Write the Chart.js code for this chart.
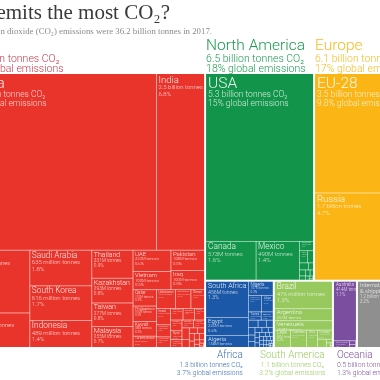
<!DOCTYPE html>
<html><head><meta charset="utf-8">
<script src="https://cdn.jsdelivr.net/npm/chart.js@4/dist/chart.umd.min.js"></script>
<style>html,body{margin:0;padding:0;background:#fff;overflow:hidden}canvas{display:block}</style>
</head><body><canvas id="c" width="380" height="380"></canvas>
<script>
// ---------------- DATA (million tonnes CO2, 2017) ----------------
const titleText = 'Who emits the most CO₂?';
const subtitleText = 'Global carbon dioxide (CO₂) emissions were 36.2 billion tonnes in 2017.';
const globalTotal = 36200;

const regionNames = ['Asia','North America','Europe','Africa','South America','Oceania','International'];

const asiaCountries = ['China','India','Japan','Iran','Saudi Arabia','South Korea','Indonesia','Thailand','Kazakhstan','Taiwan','Malaysia','UAE','Vietnam','Pakistan','Iraq','Qatar','Philippines','Kuwait','Turkmenistan','Uzbekistan','Bangladesh','Oman','Israel','Singapore','Hong Kong','North Korea','Mongolia','Azerbaijan','Bahrain','Syria','Lebanon','Myanmar','Jordan','Sri Lanka','Laos','Nepal','Yemen','Afghanistan','Cambodia','Georgia','Kyrgyzstan','Brunei','Tajikistan','Armenia','Palestine','Macao','Maldives','Bhutan'];
const asiaEmissions = [9839,2467,1205,672,635,616,489,331,293,277,255,232,199,198,190,110,105,98,80,102,83,76,66,49,45,41,38,35,35,29,27,26,26,24,18,13,12,11,10,10,10,7,6,5,3,2,1.5,1];

const northAmericaCountries = ['USA','Canada','Mexico','Trinidad and Tobago','Cuba','Dominican Republic','Guatemala','Panama','Honduras','Jamaica','Costa Rica','El Salvador','Nicaragua','Haiti','Bahamas','Barbados'];
const northAmericaEmissions = [5270,573,490,38,28,22,18,11,10,8,8,7,5,3,2,1.5];

const europeCountries = ['EU-28','Russia','Turkey','Ukraine','Belarus','Serbia','Norway','Switzerland','Bosnia and Herzegovina','Kosovo','Macedonia','Moldova','Albania','Montenegro','Iceland'];
const europeEmissions = [3545,1693,448,210,60,46,44,38,22,9,8,5,5,2,2];

const africaCountries = ['South Africa','Egypt','Algeria','Nigeria','Morocco','Libya','Tunisia','Angola','Sudan','Kenya','Ghana','Ethiopia',"Côte d'Ivoire",'Tanzania','Zimbabwe','Senegal','Mozambique','Cameroon','Botswana','Benin','Equatorial Guinea','Zambia','Uganda','Gabon','Mauritius','Madagascar','Namibia','Burkina Faso','Mauritania','DR Congo','Congo','Guinea','Togo','Mali','Niger','Malawi','Rwanda','Chad','Sierra Leone','Liberia','Eswatini'];
const africaEmissions = [456,225,158,107,62,57,30,30,20,18,15,14,12,12,10,9,8,7,7,7,7,5,5,4,4,4,4,4,4,3,3,3,3,2,2,1,1,1,1,1,1];

const southAmericaCountries = ['Brazil','Argentina','Venezuela','Chile','Colombia','Peru','Ecuador','Bolivia','Paraguay','Uruguay','Guyana','Suriname'];
const southAmericaEmissions = [476,204,158,85,84,56,40,22,7,6,2,2];

const oceaniaCountries = ['Australia','New Zealand','Papua New Guinea','New Caledonia','Fiji','Solomon Islands'];
const oceaniaEmissions = [414,34,7,6,2,0.5];

const internationalCountries = ['International aviation & shipping'];
const internationalEmissions = [1160];

// ---------------- STYLE / LAYOUT ----------------
const regionData = {
  'Asia': [asiaCountries, asiaEmissions],
  'North America': [northAmericaCountries, northAmericaEmissions],
  'Europe': [europeCountries, europeEmissions],
  'Africa': [africaCountries, africaEmissions],
  'South America': [southAmericaCountries, southAmericaEmissions],
  'Oceania': [oceaniaCountries, oceaniaEmissions],
  'International': [internationalCountries, internationalEmissions]
};
const regionFill = {'Asia':'#e8342a','North America':'#12954a','Europe':'#fbb616','Africa':'#1b58a7','South America':'#97c95e','Oceania':'#7b4e9f','International':'#8f8f8f'};
const regionText = {'Asia':'#c9394a','North America':'#1c9a4f','Europe':'#fbba22','Africa':'#3b6db5','South America':'#9ccb64','Oceania':'#7b4e9f','International':'#8f8f8f'};

const V = (...c) => ({dir:'v', c});
const H = (...c) => ({dir:'h', c});
const REST = {rest:true};
const topLayout = H('Asia', V(H('North America','Europe'), H('Africa','South America','Oceania','International')));
const regionLayout = {
  'Asia': V(H('China','India'), H(V('Japan','Iran'), V('Saudi Arabia','South Korea','Indonesia'), V('Thailand','Kazakhstan','Taiwan','Malaysia'),
            V(H(V('UAE','Vietnam'), V('Pakistan','Iraq')), H(V('Qatar','Philippines','Kuwait','Turkmenistan'), REST)))),
  'North America': V('USA', H('Canada','Mexico', REST)),
  'Europe': V('EU-28', H('Russia', V('Turkey','Ukraine', REST))),
  'Africa': H(V('South Africa','Egypt','Algeria'), REST),
  'South America': V('Brazil','Argentina','Venezuela', REST),
  'Oceania': V('Australia', REST),
  'International': V('International aviation & shipping')
};
// treemap frame in scale units; scales crop a 380x380 window of it
const FRAME = {x:0, y:0, w:454, h:275};
const FONT = 'Roboto, "Liberation Sans", sans-serif';

// ---------------- LAYOUT ENGINE ----------------
function listed(node, acc){ if (typeof node==='string') acc.add(node); else if (node.c) node.c.forEach(n=>listed(n,acc)); return acc; }
function nodeVal(node, valOf, rest){ if (typeof node==='string') return valOf[node]; if (node.rest) return rest.reduce((a,b)=>a+b.v,0); return node.c.reduce((s,n)=>s+nodeVal(n,valOf,rest),0); }
function worst(row, side, scale){
  const s=row.reduce((a,b)=>a+b.v,0)*scale; let mx=-Infinity,mn=Infinity;
  row.forEach(r=>{const a=r.v*scale; mx=Math.max(mx,a); mn=Math.min(mn,a);});
  return Math.max(side*side*mx/(s*s),(s*s)/(side*side*mn));
}
function squarify(items, rect, out){
  items=items.slice().sort((a,b)=>b.v-a.v);
  let {x,y,w,h}=rect; const total=items.reduce((a,b)=>a+b.v,0); const scale=w*h/total;
  let row=[],i=0;
  const flush=()=>{
    const s=row.reduce((a,b)=>a+b.v,0)*scale;
    if(w>=h){const cw=s/h; let yy=y; row.forEach(r=>{const ch=r.v*scale/cw; out.push({name:r.name,v:r.v,x,y:yy,w:cw,h:ch}); yy+=ch;}); x+=cw; w-=cw;}
    else {const rh=s/w; let xx=x; row.forEach(r=>{const cw=r.v*scale/rh; out.push({name:r.name,v:r.v,x:xx,y,w:cw,h:rh}); xx+=cw;}); y+=rh; h-=rh;}
    row=[];
  };
  while(i<items.length){const side=Math.min(w,h); const nr=row.concat([items[i]]);
    if(row.length===0||worst(nr,side,scale)<=worst(row,side,scale)){row=nr;i++;} else flush();}
  if(row.length) flush();
}
function layoutNode(node, rect, valOf, rest, out){
  if (typeof node==='string'){ out.push({name:node, v:valOf[node], x:rect.x, y:rect.y, w:rect.w, h:rect.h}); return; }
  if (node.rest){ squarify(rest, rect, out); return; }
  const vals=node.c.map(n=>nodeVal(n,valOf,rest)); const tot=vals.reduce((a,b)=>a+b,0); let off=0;
  node.c.forEach((n,k)=>{ const f=vals[k]/tot;
    const r = node.dir==='h' ? {x:rect.x+off*rect.w, y:rect.y, w:rect.w*f, h:rect.h} : {x:rect.x, y:rect.y+off*rect.h, w:rect.w, h:rect.h*f};
    off+=f; layoutNode(n,r,valOf,rest,out); });
}
const regionTotals = {};
regionNames.forEach(r=>{ regionTotals[r]=regionData[r][1].reduce((a,b)=>a+b,0); });
const regionRects=[]; layoutNode(topLayout, FRAME, regionTotals, [], regionRects);
const cells=[];
regionRects.forEach(R=>{
  const [names, vals]=regionData[R.name]; const valOf={}; names.forEach((n,i)=>valOf[n]=vals[i]);
  const used=listed(regionLayout[R.name], new Set());
  const rest=names.filter(n=>!used.has(n)).map(n=>({name:n, v:valOf[n]}));
  const out=[]; layoutNode(regionLayout[R.name], R, valOf, rest, out);
  out.forEach(c=>{ c.region=R.name; cells.push(c); });
});

// ---------------- DRAWING ----------------
function pct(v){ const p=v/globalTotal*100; return p>=10 ? String(Math.round(p)) : p.toFixed(1); }
function bn(v){ const b=v/1000; return b>=10 ? String(Math.round(b)) : b.toFixed(1); }
function spec(v){
  if (v>=3000) return {ns:15.5, ls:8.5, kind:'big'};
  if (v>=1000) return {ns:9.5, ls:6, kind:'bn'};
  if (v>=400) return {ns:8.3, ls:6, kind:'mil'};
  if (v>=250) return {ns:7, ls:4.8, kind:'M'};
  if (v>=150) return {ns:6, ls:4.2, kind:'M'};
  if (v>=75) return {ns:4.5, ls:3.2, kind:'M'};
  if (v>=25) return {ns:3.2, ls:2.4, kind:'M'};
  return null;
}
function drawCellText(ctx, c, X, Y, W, Hh){
  const s=spec(c.v); if(!s) return;
  let lines;
  if (s.kind==='big') lines=[bn(c.v)+' billion tonnes CO₂', pct(c.v)+'% global emissions'];
  else if (s.kind==='bn') lines=[bn(c.v)+' billion tonnes', pct(c.v)+'%'];
  else if (s.kind==='mil' && W>55) lines=[Math.round(c.v)+' million tonnes', pct(c.v)+'%'];
  else lines=[Math.round(c.v)+'M tonnes', pct(c.v)+'%'];
  const nameLines=c.name.split(' & ').map((t,i,a)=>i<a.length-1?t:(a.length>1?'& '+t:t));
  ctx.font=`300 ${s.ns}px ${FONT}`;
  const nw=Math.max(...nameLines.map(t=>ctx.measureText(t).width));
  const k=Math.min(1,(W-4)/nw);
  const ns=s.ns*k, ls=s.ls*Math.max(k,0.75);
  ctx.save(); ctx.beginPath(); ctx.rect(X,Y,W,Hh); ctx.clip();
  ctx.fillStyle='rgba(255,255,255,0.9)'; ctx.textAlign='left'; ctx.textBaseline='alphabetic';
  let by=Y+0.5+ns*0.85;
  ctx.font=`300 ${ns}px ${FONT}`;
  nameLines.forEach((t,i)=>{ if(i>0) by+=ns*1.0; ctx.fillText(t,X+2,by); });
  ctx.font=`300 ${ls}px ${FONT}`; ctx.fillStyle='rgba(255,255,255,0.8)';
  lines.forEach(t=>{ by+=ls*1.08; ctx.fillText(t,X+2,by); });
  ctx.restore();
}

const treemapPlugin = {
  id:'treemap',
  afterDatasetsDraw(chart){
    const ctx=chart.ctx, xs=chart.scales.x, ys=chart.scales.y;
    const P=(r)=>{ const x0=xs.getPixelForValue(r.x), x1=xs.getPixelForValue(r.x+r.w), y0=ys.getPixelForValue(r.y), y1=ys.getPixelForValue(r.y+r.h); return {X:x0,Y:y0,W:x1-x0,H:y1-y0}; };
    ctx.save();
    // title + subtitle
    ctx.fillStyle='#3a3a3a'; ctx.font='21px "Liberation Serif", serif'; ctx.textAlign='right'; ctx.textBaseline='alphabetic';
    ctx.fillText(titleText, xs.getPixelForValue(FRAME.x+207), ys.getPixelForValue(FRAME.y-54));
    ctx.fillStyle='#8a8a8a'; ctx.font='8.8px "Liberation Serif", serif';
    ctx.fillText(subtitleText, xs.getPixelForValue(FRAME.x+249), ys.getPixelForValue(FRAME.y-39));
    // regions
    regionRects.forEach(R=>{ const p=P(R); ctx.fillStyle=regionFill[R.name]; ctx.fillRect(p.X+1,p.Y+1,p.W-2,p.H-2); });
    // cell borders
    regionRects.forEach(R=>{ const p=P(R);
      ctx.save(); ctx.beginPath(); ctx.rect(p.X+1,p.Y+1,p.W-2,p.H-2); ctx.clip();
      ctx.strokeStyle='rgba(255,255,255,0.5)'; ctx.lineWidth=0.6;
      cells.filter(c=>c.region===R.name).forEach(c=>{ const q=P(c); ctx.strokeRect(q.X,q.Y,q.W,q.H); });
      ctx.restore(); });
    cells.forEach(c=>{ const q=P(c); const r=P(regionRects.find(R=>R.name===c.region));
      const X=Math.max(q.X,r.X+1), Y=Math.max(q.Y,r.Y+1), X2=Math.min(q.X+q.W,r.X+r.W-1), Y2=Math.min(q.Y+q.H,r.Y+r.H-1);
      drawCellText(ctx,c,X,Y,X2-X,Y2-Y); });
    // region headers
    regionRects.forEach(R=>{
      const p=P(R); const v=regionTotals[R.name]; if(R.name==='International') return;
      const top = R.y < 1;
      ctx.fillStyle=regionText[R.name];
      if (top){
        const x=p.X+1; const y0=ys.getPixelForValue(FRAME.y);
        ctx.textAlign='left';
        ctx.font=`300 15.5px ${FONT}`; ctx.fillText(R.name,x,y0-23);
        ctx.font=`300 10.5px ${FONT}`; ctx.fillText(bn(v)+' billion tonnes CO₂',x,y0-11.5); ctx.fillText(pct(v)+'% global emissions',x,y0-1.5);
      } else {
        const y0=ys.getPixelForValue(FRAME.y+FRAME.h); let x;
        if (R.name==='Africa'){ ctx.textAlign='right'; x=p.X+p.W-31; }
        else if (R.name==='South America'){ ctx.textAlign='center'; x=p.X+p.W/2-11; }
        else { ctx.textAlign='left'; x=p.X+4; }
        ctx.font=`300 10px ${FONT}`; ctx.fillText(R.name,x,y0+10);
        ctx.font=`300 6.8px ${FONT}`; ctx.fillText(bn(v)+' billion tonnes CO₂',x,y0+19); ctx.fillText(pct(v)+'% global emissions',x,y0+27);
      }
    });
    ctx.restore();
  }
};

new Chart(document.getElementById('c').getContext('2d'), {
  type:'scatter',
  data:{datasets:[{data:cells.map(c=>({x:c.x+c.w/2, y:c.y+c.h/2})), pointRadius:0, pointHoverRadius:0}]},
  options:{
    responsive:false, animation:false, events:[],
    layout:{padding:0},
    plugins:{legend:{display:false}, tooltip:{enabled:false}, title:{display:false}},
    scales:{
      x:{type:'linear', display:false, min:FRAME.x+37, max:FRAME.x+417},
      y:{type:'linear', display:false, reverse:true, min:FRAME.y-73, max:FRAME.y+307}
    }
  },
  plugins:[treemapPlugin]
});
</script></body></html>
